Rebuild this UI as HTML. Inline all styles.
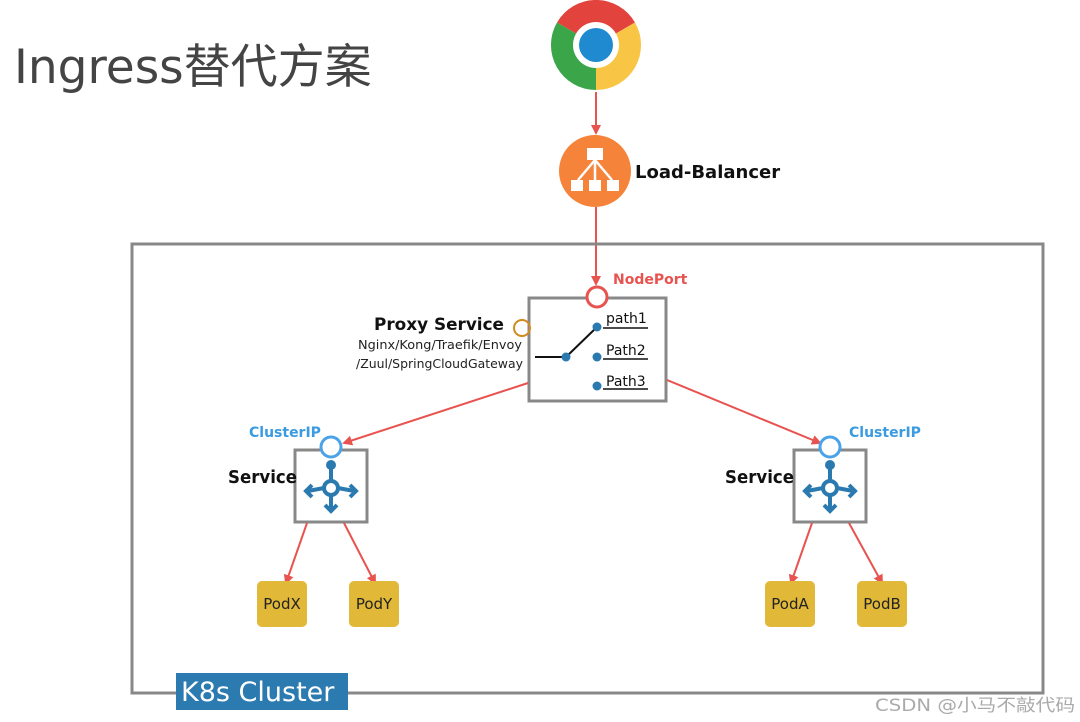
<!DOCTYPE html>
<html><head><meta charset="utf-8"><style>
html,body{margin:0;padding:0;background:#fff;width:1080px;height:722px;overflow:hidden}
svg text{font-family:"DejaVu Sans","Liberation Sans",sans-serif}
</style></head><body>
<svg width="1080" height="722" viewBox="0 0 1080 722" xmlns="http://www.w3.org/2000/svg">
<defs>
<marker id="ar" markerWidth="10" markerHeight="10" refX="8" refY="5" orient="auto" markerUnits="userSpaceOnUse" viewBox="0 0 10 10"><path d="M0,0 L10,5 L0,10 Z" fill="#e8534f"/></marker>
</defs>
<text x="14" y="83" font-size="47" fill="#444" style='font-family:"DejaVu Sans","Noto Sans CJK SC",sans-serif'>Ingress替代方案</text>

<!-- chrome -->
<path d="M596,45 L557,22.5 A45,45 0 0 1 635,22.5 Z" fill="#e2433c"/>
<path d="M596,45 L635,22.5 A45,45 0 0 1 596,90 Z" fill="#f8c545"/>
<path d="M596,45 L596,90 A45,45 0 0 1 557,22.5 Z" fill="#3ba54a"/>
<circle cx="596" cy="45" r="23" fill="#fff"/>
<circle cx="596" cy="45" r="17" fill="#1f8ad0"/>

<line x1="596" y1="92" x2="596" y2="133" stroke="#e8534f" stroke-width="2" marker-end="url(#ar)"/>
<circle cx="595" cy="171" r="36" fill="#f5843a"/>
<g fill="#fff" stroke="#fff"><rect x="587" y="148" width="16" height="12" stroke="none"/>
<path d="M595,160 L578,180 M595,160 L595,180 M595,160 L612,180" stroke-width="2.5" fill="none"/>
<rect x="571" y="180" width="12" height="11" stroke="none"/><rect x="589" y="180" width="12" height="11" stroke="none"/><rect x="607" y="180" width="12" height="11" stroke="none"/></g>
<text x="635" y="178" font-size="18" font-weight="bold" fill="#111">Load-Balancer</text>
<line x1="596" y1="207" x2="596" y2="284" stroke="#e8534f" stroke-width="2" marker-end="url(#ar)"/>

<!-- cluster -->
<rect x="132" y="244" width="911" height="449" fill="none" stroke="#888" stroke-width="3"/>
<rect x="176" y="673" width="172" height="37" fill="#2c7bb0"/>
<text x="181" y="701" font-size="27" fill="#fff">K8s Cluster</text>

<!-- proxy -->
<rect x="529" y="298" width="137" height="103" fill="#fff" stroke="#888" stroke-width="3"/>
<circle cx="597" cy="297" r="10" fill="#fff" stroke="#e8534f" stroke-width="3"/>
<text x="613" y="284" font-size="14" font-weight="bold" fill="#e8534f">NodePort</text>
<text x="374" y="330" font-size="17" font-weight="bold" fill="#111" textLength="130" lengthAdjust="spacingAndGlyphs">Proxy Service</text>
<text x="358" y="349" font-size="12.5" fill="#222" textLength="164" lengthAdjust="spacingAndGlyphs">Nginx/Kong/Traefik/Envoy</text>
<text x="356" y="368" font-size="12.5" fill="#222" textLength="167" lengthAdjust="spacingAndGlyphs">/Zuul/SpringCloudGateway</text>
<circle cx="522" cy="328" r="8" fill="none" stroke="#d08a20" stroke-width="2"/>
<line x1="535" y1="357" x2="566" y2="357" stroke="#111" stroke-width="2"/>
<line x1="566" y1="357" x2="597" y2="327" stroke="#111" stroke-width="2"/>
<circle cx="566" cy="357" r="4.5" fill="#2a7ab0"/>
<circle cx="597" cy="327" r="4.5" fill="#2a7ab0"/>
<circle cx="597" cy="357" r="4.5" fill="#2a7ab0"/>
<circle cx="597" cy="386" r="4.5" fill="#2a7ab0"/>
<g font-size="14" fill="#111"><text x="606" y="323">path1</text><text x="606" y="355">Path2</text><text x="606" y="386">Path3</text></g>
<g stroke="#111" stroke-width="1.5"><line x1="603" y1="328" x2="648" y2="328"/><line x1="603" y1="359" x2="648" y2="359"/><line x1="603" y1="389" x2="648" y2="389"/></g>

<line x1="528" y1="383" x2="344" y2="443" stroke="#e8534f" stroke-width="2" marker-end="url(#ar)"/>
<line x1="667" y1="380" x2="820" y2="443" stroke="#e8534f" stroke-width="2" marker-end="url(#ar)"/>

<!-- services -->
<g id="svc">
<rect x="295" y="450" width="72" height="72" fill="#fff" stroke="#888" stroke-width="3"/>
<circle cx="331" cy="447" r="10" fill="#fff" stroke="#4aa3e8" stroke-width="3"/>
<circle cx="331" cy="465" r="5" fill="#2a7ab0"/>
<g stroke="#2a7ab0" stroke-width="4" fill="none"><line x1="331" y1="465" x2="331" y2="480"/>
<line x1="324" y1="488" x2="308" y2="491"/><line x1="338" y1="488" x2="354" y2="491"/><line x1="331" y1="495" x2="331" y2="510"/>
<path d="M312,485 L306,491 L312,497 M350,485 L356,491 L350,497 M325,505 L331,511 L337,505"/></g>
<circle cx="331" cy="488" r="7" fill="#fff" stroke="#2a7ab0" stroke-width="4"/>
</g>
<use href="#svc" transform="translate(499,0)"/>
<text x="228" y="483" font-size="18" font-weight="bold" fill="#111" textLength="69" lengthAdjust="spacingAndGlyphs">Service</text>
<text x="725" y="483" font-size="18" font-weight="bold" fill="#111" textLength="69" lengthAdjust="spacingAndGlyphs">Service</text>
<text x="249" y="437" font-size="14" font-weight="bold" fill="#3a9be0">ClusterIP</text>
<text x="849" y="437" font-size="14" font-weight="bold" fill="#3a9be0">ClusterIP</text>

<g stroke="#e8534f" stroke-width="2" marker-end="url(#ar)">
<line x1="307" y1="523" x2="286" y2="583"/><line x1="344" y1="523" x2="375" y2="583"/>
<line x1="812" y1="523" x2="791" y2="583"/><line x1="849" y1="523" x2="882" y2="583"/></g>

<g fill="#e1b838"><rect x="257" y="581" width="50" height="46" rx="5"/><rect x="349" y="581" width="50" height="46" rx="5"/><rect x="765" y="581" width="50" height="46" rx="5"/><rect x="857" y="581" width="50" height="46" rx="5"/></g>
<g font-size="15" fill="#222" text-anchor="middle"><text x="282" y="609">PodX</text><text x="374" y="609">PodY</text><text x="790" y="609">PodA</text><text x="882" y="609">PodB</text></g>

<text x="875" y="711" font-size="17" fill="#aaa" textLength="200" lengthAdjust="spacingAndGlyphs" style='font-family:"DejaVu Sans","Noto Sans CJK SC",sans-serif'>CSDN @小马不敲代码</text>
</svg>
</body></html>
